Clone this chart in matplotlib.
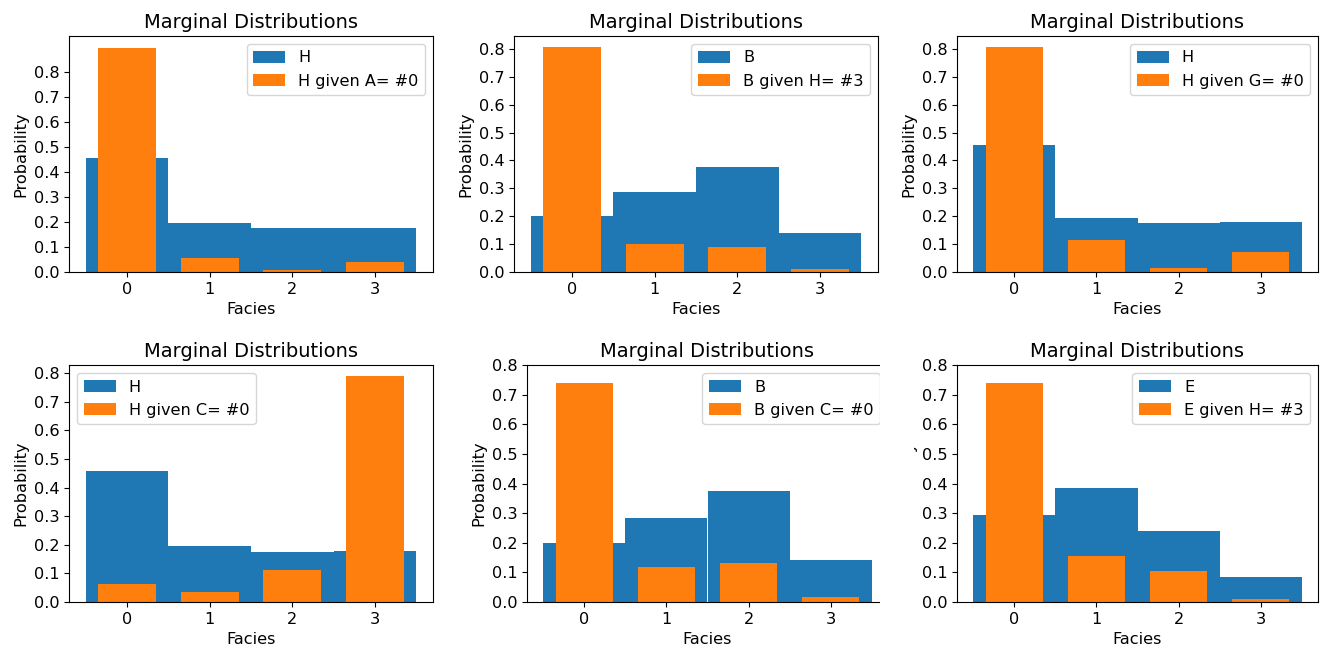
import matplotlib

matplotlib.use("Agg")

import matplotlib.pyplot as plt
from matplotlib.patches import Rectangle
import numpy as np

# Facies categories
facies = [0, 1, 2, 3]

# marginal distributions (blue) and conditional ones (orange)
h_marginal = [0.457, 0.195, 0.175, 0.178]
b_marginal = [0.200, 0.285, 0.376, 0.141]
e_marginal = [0.294, 0.384, 0.238, 0.086]

h_given_a0 = [0.897, 0.055, 0.010, 0.041]
b_given_h3 = [0.805, 0.100, 0.088, 0.010]
h_given_g0 = [0.805, 0.113, 0.013, 0.070]
h_given_c0 = [0.064, 0.036, 0.111, 0.789]
b_given_c0 = [0.740, 0.119, 0.130, 0.016]
e_given_h3 = [0.740, 0.154, 0.104, 0.009]

panels = [
    ("H", h_marginal, "H given A= #0", h_given_a0),
    ("B", b_marginal, "B given H= #3", b_given_h3),
    ("H", h_marginal, "H given G= #0", h_given_g0),
    ("H", h_marginal, "H given C= #0", h_given_c0),
    ("B", b_marginal, "B given C= #0", b_given_c0),
    ("E", e_marginal, "E given H= #3", e_given_h3),
]

plt.rcParams["font.size"] = 11.6
plt.rcParams["axes.titlesize"] = 14

W, H = 1322, 653
# axes boxes in pixels (left, top, right, bottom)
boxes = [
    (69, 36, 433, 272), (514, 36, 878, 272), (957, 36, 1318, 272),
    (69, 365, 433, 602), (527, 365, 888, 602), (957, 365, 1318, 602),
]
ytops = [0.945, 0.846, 0.846, 0.829, 0.8, 0.8]
legend_locs = ["upper right", "upper right", "upper right",
               "upper left", "upper right", "upper right"]

fig = plt.figure(figsize=(W / 100, H / 100), dpi=100)

axes = []
for i, (name, marg, cond_label, cond) in enumerate(panels):
    l, t, r, b = boxes[i]
    ax = fig.add_axes([l / W, 1 - b / H, (r - l) / W, (b - t) / H])
    ax.bar(facies, marg, width=1.0, color="#1f77b4", label=name)
    ax.bar(facies, cond, width=0.7, color="#ff7f0e", label=cond_label)
    ax.set_xticks(facies)
    ax.set_yticks(np.arange(0, 0.85, 0.1))
    ax.set_ylim(0, ytops[i])
    ax.set_title("Marginal Distributions")
    ax.set_xlabel("Facies")
    ax.set_ylabel("Probability")
    ax.legend(loc=legend_locs[i])
    axes.append(ax)

# the source is a cropped composite: the last panel covers the middle one
# and most of its own y label, only the descender of the "y" peeks out
fig.canvas.draw()
lab = axes[5].yaxis.label.get_window_extent()
x_cut = lab.x1 - 2.5
fig.patches.append(Rectangle((880 / W, 0), (x_cut - 880) / W, 330 / H,
                             transform=fig.transFigure, facecolor="white",
                             edgecolor="none", zorder=5))

fig.savefig("out.png", dpi=100)
